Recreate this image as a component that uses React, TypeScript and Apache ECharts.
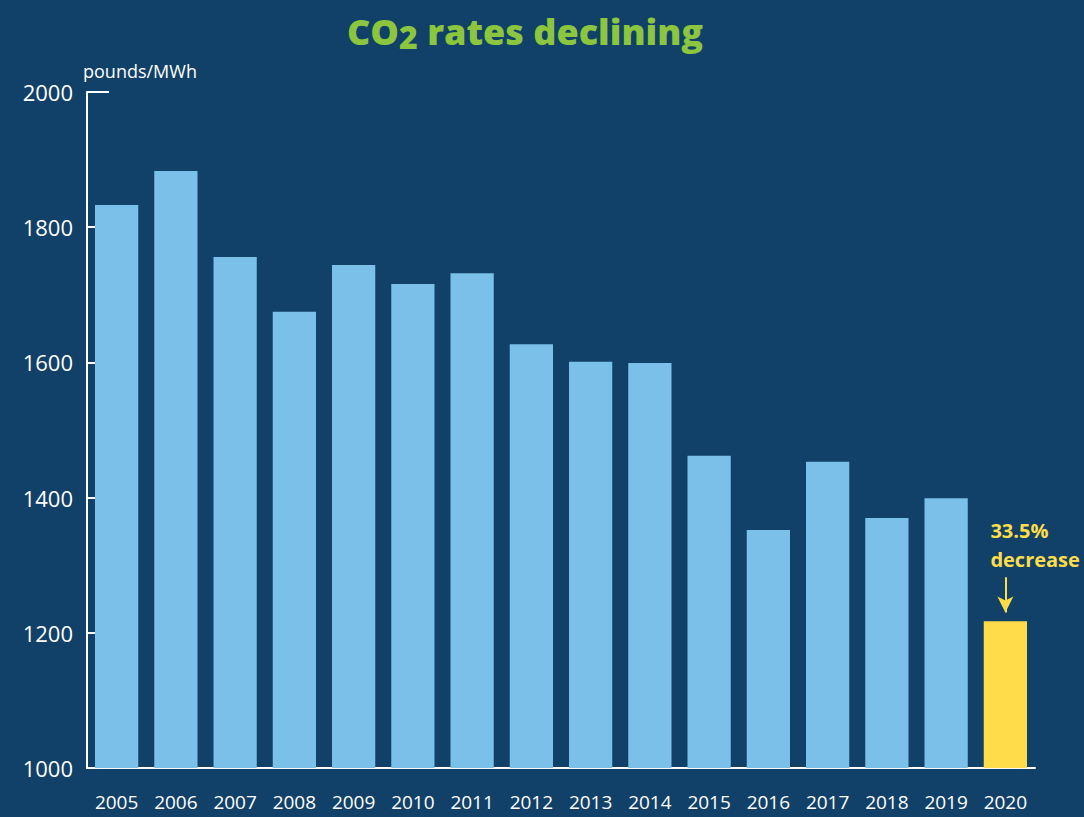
import React, { useEffect, useRef } from "react";
import * as echarts from "echarts";

const years = ["2005","2006","2007","2008","2009","2010","2011","2012","2013","2014","2015","2016","2017","2018","2019","2020"];
const rates = [1833,1883,1756,1675,1744,1716,1732,1627,1601,1599,1462,1352,1453,1370,1399,1217];
const highlightYear = "2020";
const arrowFrom = 1282;
const arrowTo = 1230;

const BG = "#114169";
const BAR = "#7BC0E8";
const YELLOW = "#FFDD4A";
const GREEN = "#8CC63F";
const FONT = "'Open Sans', 'Noto Sans', sans-serif";

export default function App() {
  const ref = useRef<HTMLDivElement>(null);
  useEffect(() => {
    document.body.style.margin = "0";
    const chart = echarts.init(ref.current!, null, { renderer: "svg" });
    chart.setOption({
      animation: false,
      backgroundColor: BG,
      title: {
        text: "{a|CO}{b|2}{a| rates declining}",
        left: 342,
        top: 5,
        textStyle: {
          rich: {
            a: { fontFamily: FONT, fontWeight: 800, fontSize: 36, color: GREEN },
            b: { fontFamily: FONT, fontWeight: 800, fontSize: 32, color: GREEN, verticalAlign: "bottom", padding: [10, 0, 0, 0] },
          },
        },
      },
      grid: { left: 87, right: 49, top: 92, bottom: 49 },
      xAxis: {
        type: "category",
        data: years,
        axisLine: { lineStyle: { color: "#ffffff", width: 2 } },
        axisTick: { inside: true, length: 10, lineStyle: { color: "#ffffff", width: 2 } },
        axisLabel: { color: "#ffffff", fontFamily: FONT, fontSize: 19, margin: 24, interval: 0, hideOverlap: false },
      },
      yAxis: {
        type: "value",
        min: 1000,
        max: 2000,
        interval: 200,
        name: "pounds/MWh",
        nameLocation: "end",
        nameGap: 12,
        nameTextStyle: { color: "#ffffff", fontFamily: FONT, fontSize: 18, align: "left", padding: [0, 0, 0, -4] },
        axisLine: { show: true, lineStyle: { color: "#ffffff", width: 2 } },
        axisTick: { show: true, inside: true, length: 8, lineStyle: { color: "#ffffff", width: 2 } },
        splitLine: { show: false },
        axisLabel: { color: "#ffffff", fontFamily: FONT, fontSize: 22, margin: 14, formatter: (v: number) => String(v) },
      },
      series: [
        {
          type: "bar",
          barCategoryGap: "27%",
          data: rates.map((v, i) =>
            years[i] === highlightYear
              ? {
                  value: v,
                  itemStyle: { color: YELLOW },
                  label: {
                    show: true,
                    position: "top",
                    align: "left",
                    offset: [-15, -42],
                    formatter: "33.5%\ndecrease",
                    color: YELLOW,
                    fontFamily: FONT,
                    fontWeight: "bold",
                    fontSize: 20,
                    lineHeight: 29,
                  },
                }
              : { value: v, itemStyle: { color: BAR } }
          ),
          markLine: {
            silent: true,
            symbol: ["none", "arrow"],
            symbolSize: [12, 16],
            label: { show: false },
            lineStyle: { color: YELLOW, width: 2, type: "solid" },
            data: [[{ coord: [highlightYear, arrowFrom] }, { coord: [highlightYear, arrowTo] }]],
          },
        },
      ],
    });
    const top = chart.convertToPixel({ yAxisIndex: 0 }, 2000) as number;
    const x0 = 87;
    chart.setOption({
      graphic: [
        {
          type: "line",
          shape: { x1: x0, y1: top, x2: x0 + 22, y2: top },
          style: { stroke: "#ffffff", lineWidth: 2 },
          silent: true,
        },
      ],
    });
    return () => chart.dispose();
  }, []);
  return <div ref={ref} style={{ position: "absolute", left: 0, top: 0, width: 1084, height: 817 }} />;
}
